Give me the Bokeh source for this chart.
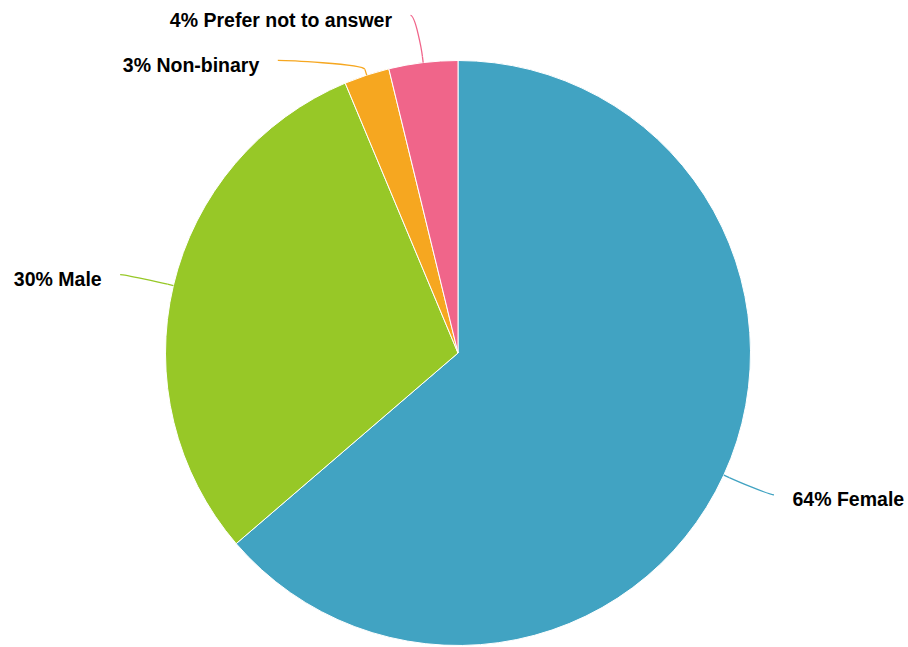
import math
from bokeh.plotting import figure
from bokeh.models import Range1d, ColumnDataSource
from bokeh.core.properties import value
from bokeh.embed import file_html
from bokeh.resources import INLINE

# ---- data ----
categories = ["Female", "Male", "Non-binary", "Prefer not to answer"]
shares = [63.7, 30.0, 2.5, 3.8]
colors = ["#41A3C2", "#97C827", "#F6A720", "#F0658A"]

# ---- layout (page pixels, converted to data units 1:1) ----
W, H = 908, 647
MARGIN = 0
CX_S, CY_S, R = 457.5, 352.5, 292.5   # pie centre / radius in page pixels
LABEL_R = 340.0                        # radius on which labels sit
CONN_OFF = 7.0                         # connector end offset from label circle
TEXT_PAD = 18.5                        # gap between connector end and text
MIN_GAP = 45.0                         # min vertical spacing of labels
BREAK = 6.0                            # soft connector break distance


def dx(xs):
    return xs - MARGIN


def dy(ys):
    return (H + MARGIN) - ys


p = figure(width=W, height=H, output_backend="svg", toolbar_location=None,
           x_range=Range1d(0, W), y_range=Range1d(0, H), min_border=0)
p.axis.visible = False
p.grid.visible = False
p.outline_line_color = None
p.background_fill_color = "white"
p.border_fill_color = "white"

total = sum(shares)
fr = [s / total for s in shares]
cum = [0.0]
for f in fr:
    cum.append(cum[-1] + f)

start = [math.pi / 2 - 2 * math.pi * cum[i] for i in range(len(fr))]
end = [math.pi / 2 - 2 * math.pi * cum[i + 1] for i in range(len(fr))]

src = ColumnDataSource(dict(x=[dx(CX_S)] * len(fr), y=[dy(CY_S)] * len(fr),
                            start=start, end=end, color=colors))
p.wedge(x="x", y="y", radius=R, start_angle="start", end_angle="end",
        direction="clock", fill_color="color", line_color="white",
        line_width=1, source=src)

# ---- labels ----
labels = []
for i, cat in enumerate(categories):
    th = 2 * math.pi * (cum[i] + cum[i + 1]) / 2   # clockwise from top
    s, c = math.sin(th), math.cos(th)
    touch = (CX_S + R * s, CY_S - R * c)
    nat = (CX_S + LABEL_R * s, CY_S - LABEL_R * c)
    labels.append(dict(i=i, th=th, s=s, c=c, touch=touch, y=nat[1],
                       right=s > 0,
                       text=f"{int(shares[i] / total * 100 + 0.5)}% {cat}"))

for side in (True, False):
    grp = sorted([l for l in labels if l["right"] == side], key=lambda l: l["y"])
    prev = None
    for l in grp:
        if prev is not None and l["y"] < prev + MIN_GAP:
            l["y"] = prev + MIN_GAP
        prev = l["y"]

for l in labels:
    yy = l["y"]
    h = math.sqrt(max(LABEL_R ** 2 - (yy - CY_S) ** 2, 0))
    sign = 1 if l["right"] else -1
    ex = CX_S + sign * (h + CONN_OFF)
    ey = yy
    tx, ty = l["touch"]
    bx, by = tx + BREAK * l["s"], ty - BREAK * l["c"]
    col = colors[l["i"]]
    p.bezier(x0=[dx(ex)], y0=[dy(ey)], x1=[dx(bx)], y1=[dy(by)],
             cx0=[dx(ex - sign * 5)], cy0=[dy(ey)],
             cx1=[dx(2 * bx - tx)], cy1=[dy(2 * by - ty)],
             line_color=col, line_width=1.3)
    p.segment(x0=[dx(bx)], y0=[dy(by)], x1=[dx(tx)], y1=[dy(ty)],
              line_color=col, line_width=1.3)
    p.text(x=[dx(ex + sign * TEXT_PAD)], y=[dy(ey + 4.5)], text=[l["text"]],
           text_font=value("Liberation Sans"), text_font_style="bold",
           text_font_size="19.5px", text_color="#000000",
           text_align="left" if l["right"] else "right",
           text_baseline="middle")

open("out.html", "w").write(file_html(p, INLINE))
